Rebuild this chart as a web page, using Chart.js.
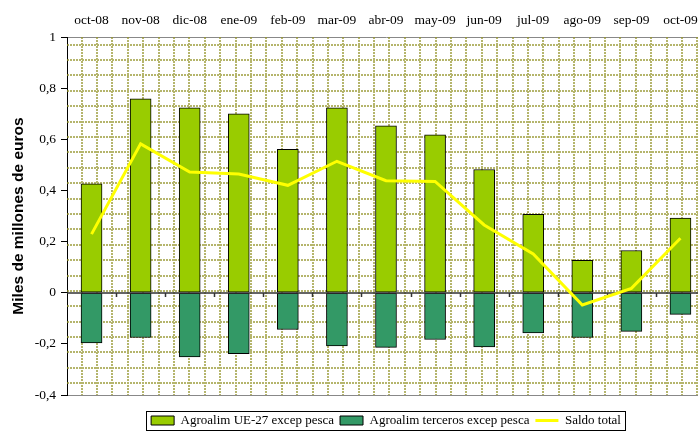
<!DOCTYPE html>
<html>
<head>
<meta charset="utf-8">
<script src="https://cdn.jsdelivr.net/npm/chart.js@4.4.1/dist/chart.umd.min.js"></script>
<style>
  html, body { margin: 0; padding: 0; background: #fff; overflow: hidden; }
  #wrap { width: 698px; height: 432px; overflow: hidden; }
</style>
</head>
<body>
<div id="wrap"><canvas id="chart" width="712" height="437"></canvas></div>
<script>
const months = ['oct-08', 'nov-08', 'dic-08', 'ene-09', 'feb-09', 'mar-09', 'abr-09',
                'may-09', 'jun-09', 'jul-09', 'ago-09', 'sep-09', 'oct-09'];
const euValues = [0.426, 0.758, 0.723, 0.700, 0.561, 0.723, 0.653, 0.617, 0.482, 0.307, 0.127, 0.165, 0.292];
const thirdValues = [-0.196, -0.175, -0.251, -0.238, -0.144, -0.208, -0.214, -0.183, -0.212, -0.157, -0.175, -0.151, -0.085];
const balanceValues = [0.229, 0.582, 0.472, 0.464, 0.420, 0.514, 0.438, 0.435, 0.265, 0.152, -0.048, 0.017, 0.213];
const yTicks = [-0.4, -0.2, 0, 0.2, 0.4, 0.6, 0.8, 1];

const serif = 'Liberation Serif';

// dotted pattern of the plot area, zero line with its small ticks, legend frame
const plotDecor = {
    id: 'plotDecor',
    beforeDatasetsDraw(chart) {
        const { ctx, chartArea: a } = chart;
        ctx.save();
        ctx.beginPath();
        ctx.rect(a.left, a.top, a.right - a.left, a.bottom - a.top);
        ctx.clip();
        ctx.strokeStyle = 'rgba(150,150,45,0.7)';
        ctx.lineWidth = 2;
        ctx.setLineDash([2, 1]);
        ctx.beginPath();
        for (let x = a.left + 14.5; x < a.right; x += 15.4) {
            ctx.moveTo(Math.round(x), a.top);
            ctx.lineTo(Math.round(x), a.bottom);
        }
        for (let y = a.top + 7.7; y < a.bottom; y += 15.39) {
            ctx.moveTo(a.left, Math.round(y));
            ctx.lineTo(a.right, Math.round(y));
        }
        ctx.stroke();
        ctx.restore();
    },
    beforeDatasetDraw(chart, args) {
        if (args.meta.type !== 'line') return;
        const { ctx, chartArea: a } = chart;
        const xs = chart.scales.x;
        const y0 = Math.round(chart.scales.y.getPixelForValue(0));
        ctx.save();
        ctx.strokeStyle = '#333';
        ctx.lineWidth = 1.5;
        ctx.beginPath();
        ctx.moveTo(a.left, y0);
        ctx.lineTo(a.right, y0);
        for (let i = 1; i < months.length; i++) {
            const x = Math.round((xs.getPixelForValue(i - 1) + xs.getPixelForValue(i)) / 2) + 0.5;
            ctx.moveTo(x, y0);
            ctx.lineTo(x, y0 + 4);
        }
        ctx.stroke();
        ctx.restore();
    },
    afterDraw(chart) {
        const boxes = chart.legend.legendHitBoxes;
        if (!boxes || !boxes.length) return;
        const left = Math.min(...boxes.map(b => b.left)) - 5;
        const right = Math.max(...boxes.map(b => b.left + b.width)) + 4;
        const top = Math.min(...boxes.map(b => b.top)) - 3;
        const bottom = Math.max(...boxes.map(b => b.top + b.height)) + 3;
        const ctx = chart.ctx;
        ctx.save();
        ctx.strokeStyle = '#000';
        ctx.lineWidth = 1;
        ctx.strokeRect(Math.round(left) + 0.5, Math.round(top) + 0.5, Math.round(right - left), Math.round(bottom - top));
        ctx.restore();
    }
};

const ctx = document.getElementById('chart').getContext('2d');
const chart = new Chart(ctx, {
    type: 'bar',
    data: {
        labels: months,
        datasets: [{
            label: 'Agroalim UE-27 excep pesca',
            data: euValues,
            backgroundColor: '#99cc00',
            borderColor: '#000',
            borderWidth: 1,
            borderSkipped: false,
            pointStyle: 'rect',
            order: 1
        }, {
            label: 'Agroalim terceros excep pesca',
            data: thirdValues,
            backgroundColor: '#339966',
            borderColor: '#000',
            borderWidth: 1,
            borderSkipped: false,
            pointStyle: 'rect',
            order: 1
        }, {
            type: 'line',
            label: 'Saldo total',
            data: balanceValues,
            borderColor: '#ffff00',
            backgroundColor: '#ffff00',
            borderWidth: 3,
            pointRadius: 0,
            tension: 0,
            pointStyle: 'line',
            order: 0
        }]
    },
    options: {
        responsive: false,
        animation: false,
        barThickness: 21,
        layout: { padding: { left: 9, right: 7, top: 0, bottom: 0 } },
        scales: {
            x: {
                position: 'top',
                stacked: true,
                grid: { display: false, drawTicks: false },
                border: { display: true, color: '#888', width: 1 },
                ticks: { color: '#000', font: { family: serif, size: 13.5 }, padding: 8, maxRotation: 0, autoSkip: false },
                afterFit: s => { s.height = 37; }
            },
            x2: {
                type: 'category',
                position: 'bottom',
                grid: { display: false, drawTicks: false },
                border: { display: true, color: '#888', width: 1 },
                ticks: { display: false },
                afterFit: s => { s.height = 13; }
            },
            y: {
                min: yTicks[0],
                max: yTicks[yTicks.length - 1],
                afterBuildTicks: s => { s.ticks = yTicks.map(v => ({ value: v })); },
                grid: { drawOnChartArea: false, drawTicks: true, tickLength: 6, color: '#000' },
                border: { display: true, color: '#000', width: 1 },
                ticks: {
                    color: '#000',
                    font: { family: serif, size: 13.5 },
                    padding: 5,
                    callback: v => String(v).replace('.', ',')
                },
                title: {
                    display: true,
                    text: 'Miles de millones de euros',
                    color: '#000',
                    font: { family: 'Liberation Sans', size: 15.5, weight: 'bold' },
                    padding: { top: 0, bottom: 0 }
                },
                afterFit: s => { s.width = 58; }
            }
        },
        plugins: {
            legend: {
                position: 'bottom',
                fullSize: false,
                labels: {
                    usePointStyle: true,
                    pointStyleWidth: 23,
                    boxHeight: 9,
                    padding: 6,
                    color: '#000',
                    font: { family: serif, size: 13 },
                    sort: (a, b) => a.datasetIndex - b.datasetIndex
                }
            },
            tooltip: { enabled: false }
        }
    },
    plugins: [plotDecor]
});
</script>
</body>
</html>
